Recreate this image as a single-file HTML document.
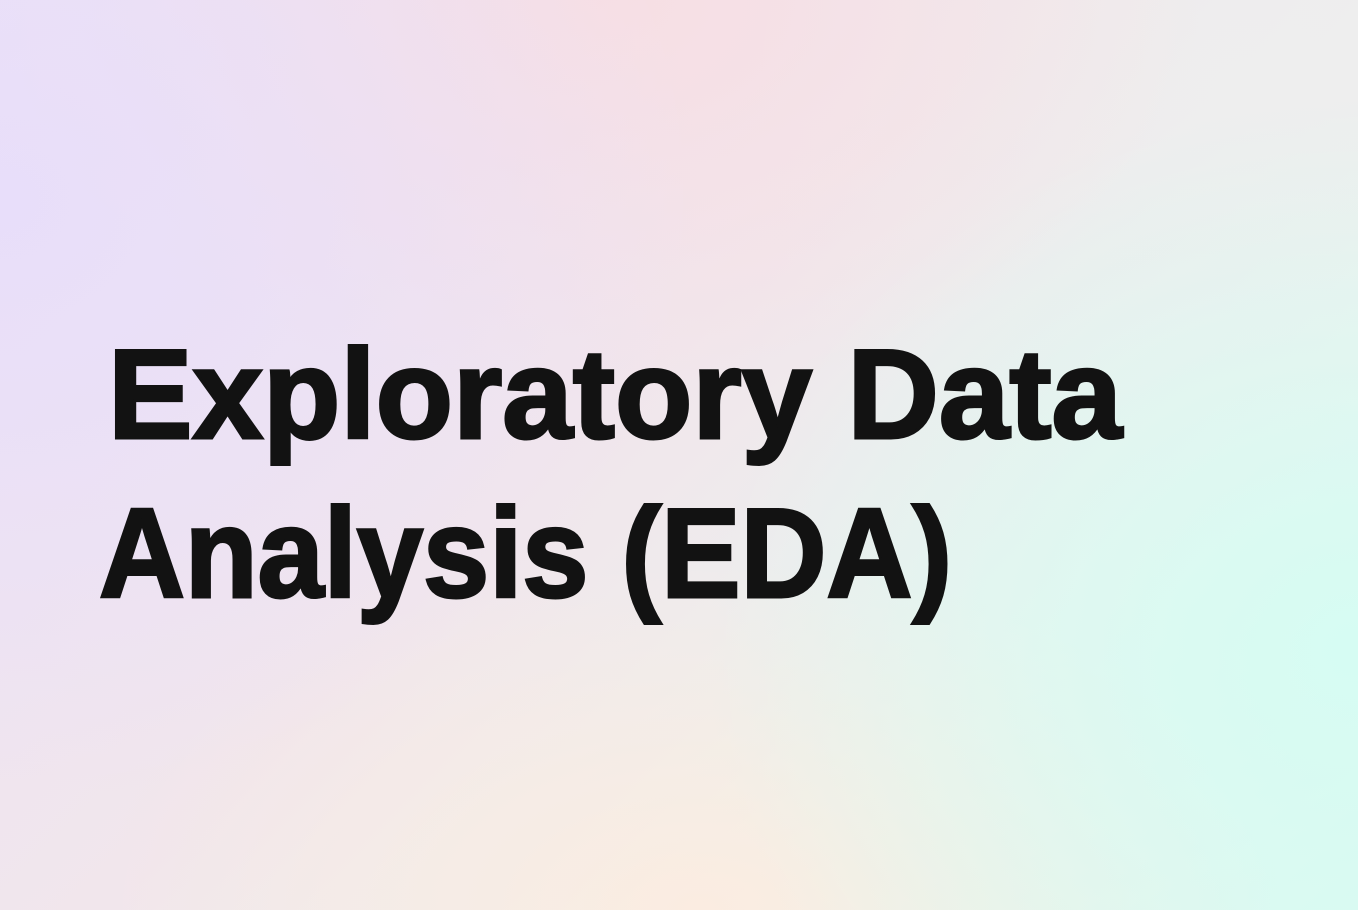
<!DOCTYPE html>
<html>
<head>
<meta charset="utf-8">
<style>
  html,body{margin:0;padding:0;}
  body{width:1358px;height:910px;overflow:hidden;position:relative;
    background:
      radial-gradient(ellipse 700px 600px at 0px 200px, rgba(232,222,250,0.95), rgba(232,222,250,0) 100%),
      radial-gradient(ellipse 600px 400px at 600px 0px, rgba(248,222,226,0.9), rgba(248,222,226,0) 100%),
      radial-gradient(ellipse 650px 550px at 1358px 650px, rgba(214,252,243,1), rgba(214,252,243,0) 100%),
      radial-gradient(ellipse 600px 350px at 700px 910px, rgba(252,236,224,0.95), rgba(252,236,224,0) 100%),
      radial-gradient(ellipse 500px 500px at 1250px 100px, rgba(238,238,238,0.9), rgba(238,238,238,0) 100%),
      linear-gradient(135deg,#ece2f6 0%,#f1e6ec 45%,#eaf3ee 75%,#dcf8f1 100%);
  }
  svg{position:absolute;left:0;top:0;}
  text{font-family:"Liberation Sans",Arial,sans-serif;font-weight:bold;fill:#121212;stroke:#121212;stroke-width:3;stroke-linejoin:miter;}
</style>
</head>
<body>
<svg width="1358" height="910">
  <text x="108" y="438" font-size="127" textLength="1014" lengthAdjust="spacingAndGlyphs">Exploratory Data</text>
  <text x="99" y="597" font-size="127" textLength="853" lengthAdjust="spacingAndGlyphs">Analysis (EDA)</text>
</svg>
</body>
</html>
